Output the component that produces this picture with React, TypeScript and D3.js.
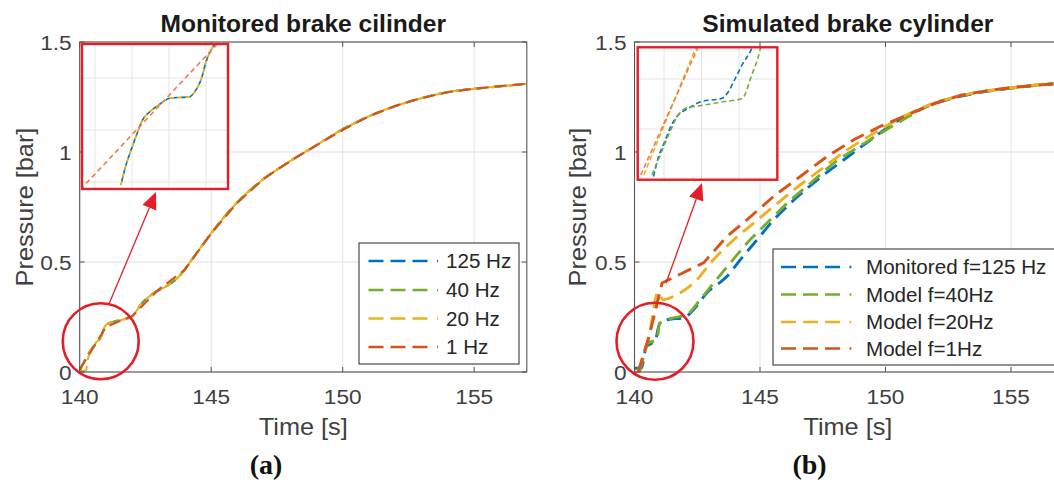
import React from "react";
import * as d3 from "d3";

type Pt = [number, number];

// ---------- ticks ----------
const timeTicks = [140, 145, 150, 155];
const timeTickLabels = ["140", "145", "150", "155"];
const pressureTicks = [0, 0.5, 1, 1.5];
const pressureTickLabels = ["0", "0.5", "1", "1.5"];

// ---------- colours ----------
const C_BLUE = "#0072BD";
const C_GREEN = "#77AC30";
const C_YELLOW = "#EDB120";
const C_RED = "#D95319";
const C_ANNOT = "#E31E26";

// ---------- panel (a): monitored brake cylinder ----------
const aLabels = ["125 Hz", "40 Hz", "20 Hz", "1 Hz"];
const aHz125: Pt[] = [
  [140.0, 0.009], [140.42, 0.1], [140.81, 0.16], [141.0, 0.214], [141.32, 0.229],
  [141.97, 0.251], [142.36, 0.312], [142.81, 0.358], [143.3, 0.39], [143.77, 0.433],
  [144.16, 0.494], [144.67, 0.577], [145.19, 0.66], [145.96, 0.767], [146.86, 0.865],
  [147.89, 0.95], [148.92, 1.025], [149.95, 1.1], [151.11, 1.168], [152.39, 1.224],
  [154.07, 1.274], [155.61, 1.294], [157.0, 1.31],
];
const aHz40: Pt[] = [
  [140.0, 0.009], [140.42, 0.1], [140.81, 0.162], [141.0, 0.215], [141.32, 0.23],
  [141.97, 0.252], [142.36, 0.313], [142.81, 0.36], [143.3, 0.391], [143.77, 0.434],
  [144.16, 0.495], [144.67, 0.578], [145.19, 0.661], [145.96, 0.768], [146.86, 0.866],
  [147.89, 0.951], [148.92, 1.026], [149.95, 1.1], [151.11, 1.168], [152.39, 1.224],
  [154.07, 1.274], [155.61, 1.294], [157.0, 1.31],
];
const aHz20: Pt[] = [
  [140.02, 0.02], [140.1, 0.004], [140.25, 0.01], [140.3, 0.05], [140.42, 0.1],
  [140.81, 0.16], [141.0, 0.214], [141.32, 0.229], [141.97, 0.251], [142.36, 0.312],
  [142.81, 0.358], [143.3, 0.39], [143.77, 0.433], [144.16, 0.494], [144.67, 0.577],
  [145.19, 0.66], [145.96, 0.767], [146.86, 0.865], [147.89, 0.95], [148.92, 1.025],
  [149.95, 1.1], [151.11, 1.168], [152.39, 1.224], [154.07, 1.274], [155.61, 1.294],
  [157.0, 1.31],
];
const aHz1: Pt[] = [
  [140, 0.01], [141, 0.205], [142, 0.255], [143, 0.375], [144, 0.465], [145, 0.63],
  [146, 0.77], [147, 0.878], [148, 0.958], [149, 1.03], [150, 1.1], [151, 1.162],
  [152, 1.21], [153, 1.245], [154, 1.272], [155, 1.288], [156, 1.3], [157, 1.31],
];
// zoomed inset of panel (a)
const aInsetXGrid = [140.5, 141, 141.5, 142];
const aInsetYGrid = [0.1, 0.2, 0.3];
const aInsetSampled: Pt[] = [
  [140.85, 0.094], [140.905, 0.126], [140.996, 0.165], [141.06, 0.19], [141.13, 0.216],
  [141.24, 0.235], [141.36, 0.248], [141.51, 0.261], [141.78, 0.264], [141.85, 0.274],
  [141.94, 0.3], [142.0, 0.331], [142.08, 0.357], [142.16, 0.372],
];
const aInsetHz1: Pt[] = [[140.3, 0.085], [142.17, 0.368]];

// ---------- panel (b): simulated brake cylinder ----------
const bLabels = ["Monitored f=125 Hz", "Model f=40Hz", "Model f=20Hz", "Model f=1Hz"];
const bMonitored125: Pt[] = [
  [140.0, 0.017], [140.27, 0.017], [140.47, 0.115], [140.67, 0.13], [140.81, 0.138],
  [141.01, 0.222], [141.41, 0.24], [141.95, 0.245], [142.35, 0.283], [142.88, 0.359],
  [143.69, 0.435], [144.22, 0.511], [144.89, 0.602], [145.56, 0.693], [146.37, 0.784],
  [147.3, 0.875], [148.37, 0.967], [149.44, 1.058], [150.38, 1.134], [151.72, 1.21],
  [153.06, 1.255], [154.93, 1.289], [156.6, 1.309], [157.0, 1.312],
];
const bModel40: Pt[] = [
  [140.2, 0.0], [140.4, 0.085], [140.54, 0.131], [140.88, 0.146], [141.01, 0.222],
  [141.5, 0.245], [142.08, 0.26], [142.61, 0.328], [143.15, 0.404], [143.82, 0.496],
  [144.49, 0.587], [145.29, 0.678], [146.1, 0.769], [147.03, 0.86], [147.97, 0.952],
  [148.77, 1.012], [149.84, 1.088], [150.9, 1.16], [151.72, 1.212], [153.06, 1.257],
  [154.93, 1.29], [156.6, 1.31], [157.0, 1.313],
];
const bModel20: Pt[] = [
  [140.13, 0.0], [140.6, 0.176], [140.94, 0.362], [141.14, 0.328], [141.54, 0.343],
  [142.35, 0.404], [143.15, 0.511], [143.96, 0.602], [144.76, 0.678], [145.56, 0.754],
  [146.37, 0.83], [147.43, 0.921], [148.5, 1.012], [149.58, 1.088], [150.6, 1.155],
  [151.72, 1.213], [153.06, 1.258], [154.93, 1.291], [156.6, 1.31], [157.0, 1.313],
];
const bModel1: Pt[] = [
  [140.15, 0.0], [140.6, 0.17], [141.1, 0.405], [142.75, 0.496], [143.69, 0.617],
  [144.49, 0.693], [145.56, 0.8], [146.63, 0.891], [147.7, 0.982], [148.77, 1.058],
  [149.84, 1.119], [151.0, 1.175], [152.0, 1.222], [153.0, 1.258], [154.0, 1.278],
  [155.0, 1.293], [156.0, 1.303], [157.0, 1.312],
];
// zoomed inset of panel (b)
const bInsetXGrid = [140.5, 141, 141.5];
const bInsetYGrid = [0.2, 0.3];
const bInsetMonitored: Pt[] = [
  [140.36, 0.105], [140.42, 0.141], [140.51, 0.175], [140.6, 0.208], [140.69, 0.228],
  [140.82, 0.241], [141.0, 0.255], [141.27, 0.261], [141.36, 0.275], [141.45, 0.301],
  [141.54, 0.328], [141.67, 0.361], [141.7, 0.372],
];
const bInsetModel40: Pt[] = [
  [140.34, 0.108], [140.45, 0.148], [140.56, 0.188], [140.69, 0.228], [140.78, 0.241],
  [141.0, 0.247], [141.31, 0.255], [141.54, 0.261], [141.67, 0.308], [141.78, 0.358],
  [141.8, 0.372],
];
const bInsetModel20: Pt[] = [[140.23, 0.108], [140.95, 0.372]];
const bInsetModel1: Pt[] = [[140.19, 0.108], [140.98, 0.372]];

// ---------- component ----------
type Series = { data: Pt[]; color: string; label: string; linear?: boolean; dash?: string; offset?: number };

type PanelCfg = {
  id: string;
  range: [number, number];
  top: number;
  bottom: number;
  title: string;
  tag: string;
  tagX: number;
  ylabelX: number;
  series: Series[];
  lw: number;
  dash: string;
  legend: { x: number; y: number; w: number; h: number; rows: number[]; lineX: number; lineLen: number; textX: number };
  circle: { t: number; p: number; r: number };
  arrow: { t0: number; p0: number; t1: number; p1: number };
  inset: {
    rect: { t0: number; t1: number; p0: number; p1: number };
    xDomain: [number, number];
    yDomain: [number, number];
    xGrid: number[];
    yGrid: number[];
    series: Series[];
  };
};

const FONT = "'Liberation Sans', Arial, Helvetica, sans-serif";

function Txt(props: {
  x: number; y: number; size: number; anchor?: string; weight?: string | number;
  fill?: string; sx?: number; rot?: number; family?: string; children: React.ReactNode;
}) {
  const { x, y, size, anchor = "start", weight = "normal", fill = "#404040", sx = 1, rot = 0, family = FONT } = props;
  return (
    <text
      transform={`translate(${x},${y}) rotate(${rot}) scale(${sx},1)`}
      fontSize={size}
      fontFamily={family}
      fontWeight={weight}
      fill={fill}
      textAnchor={anchor}
    >
      {props.children}
    </text>
  );
}

function Panel({ cfg }: { cfg: PanelCfg }) {
  const x = d3.scaleLinear().domain([140, 157]).range(cfg.range);
  const y = d3.scaleLinear().domain([0, 1.5]).range([cfg.bottom, cfg.top]);
  const x0 = cfg.range[0];
  const x1 = cfg.range[1];
  const mkLine = (s: Series, sx: d3.ScaleLinear<number, number>, sy: d3.ScaleLinear<number, number>) =>
    d3
      .line<Pt>()
      .x((d) => sx(d[0]))
      .y((d) => sy(d[1]))
      .curve(s.linear ? d3.curveLinear : d3.curveMonotoneX)(s.data) || "";

  const ins = cfg.inset;
  const ixL = x(ins.rect.t0), ixR = x(ins.rect.t1);
  const iyT = y(ins.rect.p1), iyB = y(ins.rect.p0);
  const ix = d3.scaleLinear().domain(ins.xDomain).range([ixL, ixR]);
  const iy = d3.scaleLinear().domain(ins.yDomain).range([iyB, iyT]);

  // arrow geometry
  const ax0 = x(cfg.arrow.t0), ay0 = y(cfg.arrow.p0);
  const ax1 = x(cfg.arrow.t1), ay1 = y(cfg.arrow.p1);
  const ang = Math.atan2(ay1 - ay0, ax1 - ax0);
  const hl = 17, hw = 7.5;
  const bx = ax1 - hl * Math.cos(ang), by = ay1 - hl * Math.sin(ang);
  const px = -Math.sin(ang) * hw, py = Math.cos(ang) * hw;
  const head = `M${ax1},${ay1}L${bx + px},${by + py}L${bx - px},${by - py}Z`;

  const axisColor = "#555555";
  const gridColor = "#e1e1e1";
  const tl = 5;
  const L = cfg.legend;
  const legendDash = "15,7,15,7,15,9.5,1.8";

  return (
    <g>
      <defs>
        <clipPath id={`clip-${cfg.id}`}>
          <rect x={x0} y={cfg.top} width={x1 - x0} height={cfg.bottom - cfg.top} />
        </clipPath>
        <clipPath id={`iclip-${cfg.id}`}>
          <rect x={ixL} y={iyT} width={ixR - ixL} height={iyB - iyT} />
        </clipPath>
      </defs>
      <rect x={x0} y={cfg.top} width={x1 - x0} height={cfg.bottom - cfg.top} fill="#fff" />
      {/* grid */}
      {timeTicks.map((t) => (
        <line key={"gx" + t} x1={x(t)} x2={x(t)} y1={cfg.top} y2={cfg.bottom} stroke={gridColor} strokeWidth={1} />
      ))}
      {pressureTicks.map((p) => (
        <line key={"gy" + p} x1={x0} x2={x1} y1={y(p)} y2={y(p)} stroke={gridColor} strokeWidth={1} />
      ))}
      {/* data */}
      <g clipPath={`url(#clip-${cfg.id})`}>
        {cfg.series.map((s) => (
          <path key={s.label} d={mkLine(s, x, y)} fill="none" stroke={s.color} strokeWidth={cfg.lw} strokeDasharray={cfg.dash} />
        ))}
      </g>
      {/* axes box + ticks */}
      <rect x={x0} y={cfg.top} width={x1 - x0} height={cfg.bottom - cfg.top} fill="none" stroke={axisColor} strokeWidth={1.1} />
      {timeTicks.map((t) => (
        <g key={"tx" + t}>
          <line x1={x(t)} x2={x(t)} y1={cfg.bottom} y2={cfg.bottom - tl} stroke={axisColor} />
          <line x1={x(t)} x2={x(t)} y1={cfg.top} y2={cfg.top + tl} stroke={axisColor} />
        </g>
      ))}
      {pressureTicks.map((p) => (
        <g key={"ty" + p}>
          <line x1={x0} x2={x0 + tl} y1={y(p)} y2={y(p)} stroke={axisColor} />
          <line x1={x1} x2={x1 - tl} y1={y(p)} y2={y(p)} stroke={axisColor} />
        </g>
      ))}
      {timeTicks.map((t, i) => (
        <Txt key={"lx" + t} x={x(t)} y={cfg.bottom + 32} size={21} anchor="middle" sx={1.08}>
          {timeTickLabels[i]}
        </Txt>
      ))}
      {pressureTicks.map((p, i) => (
        <Txt key={"ly" + p} x={x0 - 8} y={y(p) + 7.5} size={21} anchor="end" sx={1.08}>
          {pressureTickLabels[i]}
        </Txt>
      ))}
      <Txt x={(x0 + x1) / 2} y={cfg.bottom + 63} size={23} anchor="middle" sx={1.1}>
        Time [s]
      </Txt>
      <Txt x={cfg.ylabelX} y={(cfg.top + cfg.bottom) / 2} size={23} anchor="middle" sx={1.1} rot={-90}>
        Pressure [bar]
      </Txt>
      <Txt x={(x0 + x1) / 2} y={32} size={23} anchor="middle" weight="bold" fill="#1a1a1a" sx={1.07}>
        {cfg.title}
      </Txt>
      <Txt x={cfg.tagX} y={474} size={28} anchor="middle" weight="bold" fill="#111" family="'Liberation Serif', 'Times New Roman', serif">
        {cfg.tag}
      </Txt>
      {/* legend */}
      <rect x={L.x} y={L.y} width={L.w} height={L.h} fill="#fff" stroke="#3a3a3a" strokeWidth={1.1} />
      {cfg.series.map((s, i) => (
        <g key={"lg" + s.label}>
          <line
            x1={L.lineX}
            x2={L.lineX + L.lineLen}
            y1={L.rows[i]}
            y2={L.rows[i]}
            stroke={s.color}
            strokeWidth={2.4}
            strokeDasharray={legendDash}
          />
          <Txt x={L.textX} y={L.rows[i] + 7} size={20} fill="#262626" sx={1.03}>
            {s.label}
          </Txt>
        </g>
      ))}
      {/* annotation circle & arrow */}
      <circle cx={x(cfg.circle.t)} cy={y(cfg.circle.p)} r={cfg.circle.r} fill="none" stroke={C_ANNOT} strokeWidth={2.6} />
      <line x1={ax0} y1={ay0} x2={bx} y2={by} stroke={C_ANNOT} strokeWidth={1.3} />
      <path d={head} fill={C_ANNOT} />
      {/* inset */}
      <rect x={ixL} y={iyT} width={ixR - ixL} height={iyB - iyT} fill="#fff" />
      {ins.xGrid.map((t) => (
        <line key={"igx" + t} x1={ix(t)} x2={ix(t)} y1={iyT} y2={iyB} stroke="#e4e4e4" strokeWidth={1} />
      ))}
      {ins.yGrid.map((p) => (
        <line key={"igy" + p} x1={ixL} x2={ixR} y1={iy(p)} y2={iy(p)} stroke="#e4e4e4" strokeWidth={1} />
      ))}
      <g clipPath={`url(#iclip-${cfg.id})`}>
        {ins.series.map((s) => (
          <path
            key={"is" + s.label}
            d={mkLine(s, ix, iy)}
            fill="none"
            stroke={s.color}
            strokeWidth={1.6}
            strokeDasharray={s.dash || "5,3"}
            strokeDashoffset={s.offset || 0}
          />
        ))}
      </g>
      <rect x={ixL} y={iyT} width={ixR - ixL} height={iyB - iyT} fill="none" stroke={C_ANNOT} strokeWidth={2.4} />
    </g>
  );
}

const panelA: PanelCfg = {
  id: "a",
  range: [79.7, 526.8],
  top: 42,
  bottom: 372,
  title: "Monitored brake cilinder",
  tag: "(a)",
  tagX: 266,
  ylabelX: 33,
  series: [
    { data: aHz125, color: C_BLUE, label: aLabels[0] },
    { data: aHz40, color: C_GREEN, label: aLabels[1] },
    { data: aHz20, color: C_YELLOW, label: aLabels[2] },
    { data: aHz1, color: C_RED, label: aLabels[3], linear: true },
  ],
  lw: 2.1,
  dash: "12,6",
  legend: { x: 359, y: 243, w: 160, h: 121, rows: [261, 290, 318.5, 347], lineX: 368.5, lineLen: 69.5, textX: 446 },
  circle: { t: 140.8, p: 0.1395, r: 38 },
  arrow: { t0: 141.125, p0: 0.312, t1: 142.9, p1: 0.818 },
  inset: {
    rect: { t0: 140.087, t1: 145.64, p0: 0.832, p1: 1.491 },
    xDomain: [140.324, 142.297],
    yDomain: [0.0865, 0.3654],
    xGrid: aInsetXGrid,
    yGrid: aInsetYGrid,
    series: [
      { data: aInsetSampled, color: C_GREEN, label: "i40", dash: "5,3" },
      { data: aInsetSampled, color: C_BLUE, label: "i125", dash: "4,4", offset: 4 },
      { data: aInsetSampled, color: C_YELLOW, label: "i20", dash: "4,4" },
      { data: aInsetHz1, color: "#EE7C4A", label: "i1", linear: true, dash: "5,3.5" },
    ],
  },
};

const panelB: PanelCfg = {
  id: "b",
  range: [634.5, 1061.2],
  top: 42,
  bottom: 372,
  title: "Simulated brake cylinder",
  tag: "(b)",
  tagX: 809.5,
  ylabelX: 586,
  series: [
    { data: bMonitored125, color: C_BLUE, label: bLabels[0] },
    { data: bModel40, color: C_GREEN, label: bLabels[1] },
    { data: bModel20, color: C_YELLOW, label: bLabels[2] },
    { data: bModel1, color: C_RED, label: bLabels[3], linear: true },
  ],
  lw: 2.9,
  dash: "14.5,7.5",
  legend: { x: 773, y: 249, w: 300, h: 116, rows: [267, 294.5, 322, 348.5], lineX: 781, lineLen: 76, textX: 866 },
  circle: { t: 140.817, p: 0.1395, r: 38.5 },
  arrow: { t0: 141.255, p0: 0.403, t1: 142.69, p1: 0.859 },
  inset: {
    rect: { t0: 140.127, t1: 145.69, p0: 0.874, p1: 1.476 },
    xDomain: [140.149, 142.011],
    yDomain: [0.0986, 0.3634],
    xGrid: bInsetXGrid,
    yGrid: bInsetYGrid,
    series: [
      { data: bInsetMonitored, color: C_BLUE, label: "i125" },
      { data: bInsetModel40, color: C_GREEN, label: "i40" },
      { data: bInsetModel20, color: C_YELLOW, label: "i20", linear: true },
      { data: bInsetModel1, color: "#EE7C4A", label: "i1", linear: true },
    ],
  },
};

export default function App() {
  return (
    <svg
      width={1054}
      height={483}
      viewBox="0 0 1054 483"
      style={{ position: "absolute", left: 0, top: 0, background: "#fff" }}
    >
      <rect x={0} y={0} width={1054} height={483} fill="#fff" />
      <Panel cfg={panelA} />
      <Panel cfg={panelB} />
    </svg>
  );
}
